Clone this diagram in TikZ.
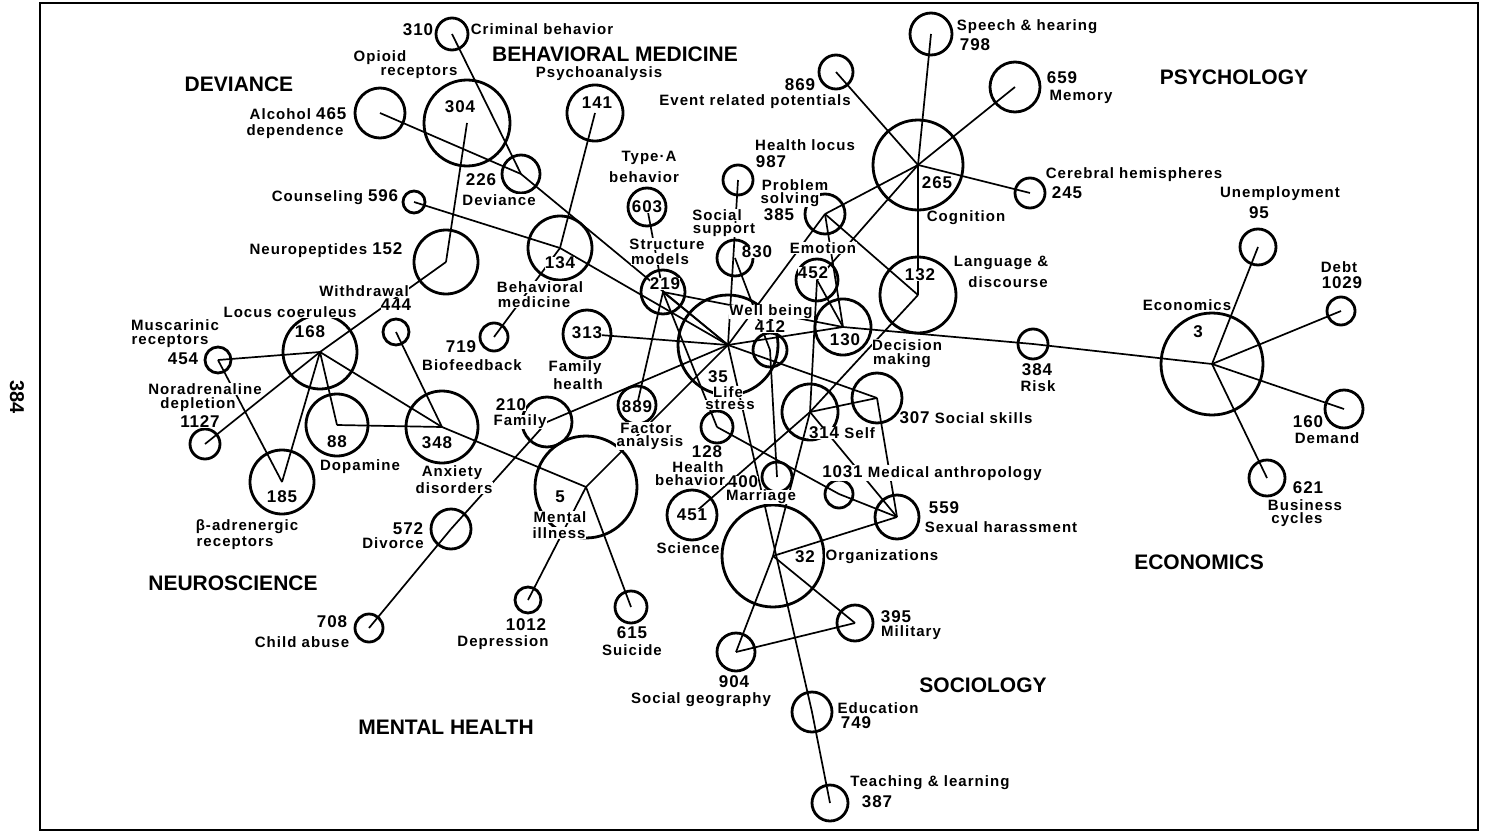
\documentclass[tikz,border=0pt]{standalone}
\usepackage{fontspec}
\setmainfont{Liberation Sans}
\newfontfamily\labf{Liberation Sans}[LetterSpace=7]
\newfontfamily\numf{Liberation Sans}[LetterSpace=5]
\newfontfamily\regf{Liberation Sans}
\newcommand\TT{\labf\bfseries\fontsize{15}{16}\selectfont}
\newcommand\NN{\numf\bfseries\fontsize{17}{18}\selectfont}
\begin{document}
\begin{tikzpicture}[x=1pt,y=-1pt,
  circ/.style={draw, circle, line width=2.8pt, minimum size=#1, inner sep=0pt},
  lnk/.style={line width=1.7pt},
  lab/.style={font=\TT, fill=white, inner sep=0.4pt},
  num/.style={font=\NN, fill=white, inner sep=0.4pt},
  reg/.style={font=\regf\bfseries\fontsize{21}{22}\selectfont, inner sep=0pt}]
\useasboundingbox (0,0) rectangle (1487,832);
\draw[line width=1.8pt] (40,3) rectangle (1478,830);
\node[rotate=-90, font=\regf\bfseries\fontsize{20}{20}\selectfont] (page) at (17,397) {384};
% circles
\foreach \n/\x/\y/\r in {310/452/34/16, 304/467/123/43, 465/380/113/25, 226/521/174/19,
  596/414/202/11, 141/595/113/28, 152/446/262/32, 134/560/248/32, 603/647/207/19,
  987/738/180/15, 830/735/258/18, 219/663/292/22, 869/836/72/17, 798/931/34/21,
  659/1015/87/25, 265/918/165/45, 245/1030/193/15, 385/825/214/20, 452/817/280/21,
  132/918/295/38, 130/843/327/28, 412/770/350/17, 35/728/345/50, 313/587/334/24,
  444/396/332/13, 168/320/352/37, 454/218/360/13, 1127/205/444/15, 88/337/425/31,
  185/282/482/32, 719/494/337/14, 348/442/427/36, 210/547/422/25, 889/637/405/19,
  5/586/487/51, 128/717/427/16, 451/692/515/25, 400/777/477/15, 572/451/529/20,
  708/369/628/14, 1012/528/600/13, 615/631/607/16, 904/736/652/19, 32/773/556/51,
  395/855/623/18, 749/812/712/20, 387/830/803/18, 307/877/398/25, 314/810/412/28,
  1031/839/494/14, 559/897/517/22, 384/1033/344/15, 3/1212/364/51, 95/1258/247/18,
  1029/1341/311/14, 160/1344/409/19, 621/1267/478/18}
  \node[circ=2*\r pt] (c\n) at (\x,\y) {};
% links
\foreach \a/\b in {465/226, 226/35, 310/226, 304/152, 152/168, 596/134, 134/35, 141/134,
  134/719, 603/219, 219/35, 219/130, 219/128, 889/219, 313/35, 210/35, 5/35, 348/5,
  5/1012, 5/615, 708/572, 572/210, 168/454, 168/1127, 168/185, 454/185, 168/88, 88/348,
  168/348, 444/348, 265/798, 265/869, 265/659, 265/245, 265/385, 265/132, 452/265,
  385/35, 385/132, 385/130, 452/314, 452/130, 35/130, 130/384, 384/3, 3/95, 3/1029,
  3/160, 3/621, 132/314, 307/559, 314/307, 35/307, 451/314, 314/32, 32/904, 904/395,
  32/395, 35/749, 749/387, 314/559, 128/1031, 1031/559, 559/32, 412/400, 987/35, 830/412}
  \draw[lnk] (c\a.center) -- (c\b.center);
% region titles
\node[reg] (r1) at (239,84) {DEVIANCE};
\node[reg] (r2) at (615,54) {BEHAVIORAL MEDICINE};
\node[reg] (r3) at (1234,77) {PSYCHOLOGY};
\node[reg] (r4) at (233,583) {NEUROSCIENCE};
\node[reg] (r5) at (446,727) {MENTAL HEALTH};
\node[reg] (r6) at (983,685) {SOCIOLOGY};
\node[reg] (r7) at (1199,562) {ECONOMICS};
% text labels
\foreach \x/\y/\t [count=\i] in {380/58/Opioid, 419/72/receptors, 295/132/dependence,
  364/291/Withdrawal, 290/312/Locus coeruleus, 175/325/Muscarinic, 170/341/receptors,
  205/389/Noradrenaline, 198/405/depletion, 360/467/Dopamine, 247/527/β-adrenergic,
  235/543/receptors, 302/642/Child abuse, 393/543/Divorce, 503/643/Depression,
  632/650/Suicide, 701/700/Social geography, 911/633/Military, 878/708/Education,
  930/783/Teaching \& learning, 542/29/Criminal behavior, 599/74/Psychoanalysis,
  499/200/Deviance, 649/158/Type·A, 644/177/behavior, 805/145/Health locus,
  795/185/Problem, 790/200/solving, 717/215/Social, 724/230/support, 667/244/Structure,
  660/259/models, 540/287/Behavioral, 534/302/medicine, 472/365/Biofeedback,
  575/368/Family, 578/384/health, 520/422/Family, 452/473/Anxiety, 454/488/disorders,
  646/428/Factor, 650/443/analysis, 560/517/Mental, 559/533/illness, 728/392/Life,
  730/405/stress, 771/312/Well being, 698/467/Health, 690/480/behavior, 761/497/Marriage,
  688/548/Science, 1027/27/Speech \& hearing, 755/102/Event related potentials,
  1081/97/Memory, 966/218/Cognition, 1134/175/Cerebral hemispheres, 823/248/Emotion,
  1001/263/Language \&, 1008/282/discourse, 907/345/Decision, 902/361/making,
  1038/386/Risk, 1001/527/Sexual harassment, 882/557/Organizations, 1187/305/Economics,
  1280/194/Unemployment, 1339/267/Debt, 1327/438/Demand, 1305/505/Business,
  1297/520/cycles}
  \node[lab] (t\i) at (\x,\y) {\t};
% number labels
\foreach \x/\y/\t [count=\i] in {396/305/444, 310/332/168, 183/359/454, 200/422/1127,
  337/442/88, 282/497/185, 332/622/708, 408/529/572, 526/625/1012, 632/633/615,
  734/682/904, 896/617/395, 856/723/749, 877/802/387, 418/30/310, 460/107/304,
  597/103/141, 481/180/226, 647/207/603, 771/162/987, 779/215/385, 757/252/830,
  665/284/219, 560/263/134, 461/347/719, 587/333/313, 511/405/210, 437/443/348,
  637/407/889, 560/497/5, 718/377/35, 770/327/412, 707/452/128, 692/515/451,
  743/482/400, 975/45/798, 800/85/869, 1062/78/659, 937/183/265, 1067/193/245,
  813/273/452, 920/275/132, 845/340/130, 1037/370/384, 944/508/559, 805/557/32,
  1198/332/3, 1259/213/95, 1342/283/1029, 1308/422/160, 1308/488/621}
  \node[num] (n\i) at (\x,\y) {\t};
% mixed labels
\node[lab] (m1) at (298,114) {Alcohol {\NN 465}};
\node[lab] (m2) at (335,197) {Counseling {\NN 596}};
\node[lab] (m3) at (326,250) {Neuropeptides {\NN 152}};
\node[lab] (m4) at (966,418) {{\NN 307} Social skills};
\node[lab] (m5) at (842,433) {{\NN 314} Self};
\node[lab] (m6) at (932,473) {{\NN 1031} Medical anthropology};
\end{tikzpicture}
\end{document}
